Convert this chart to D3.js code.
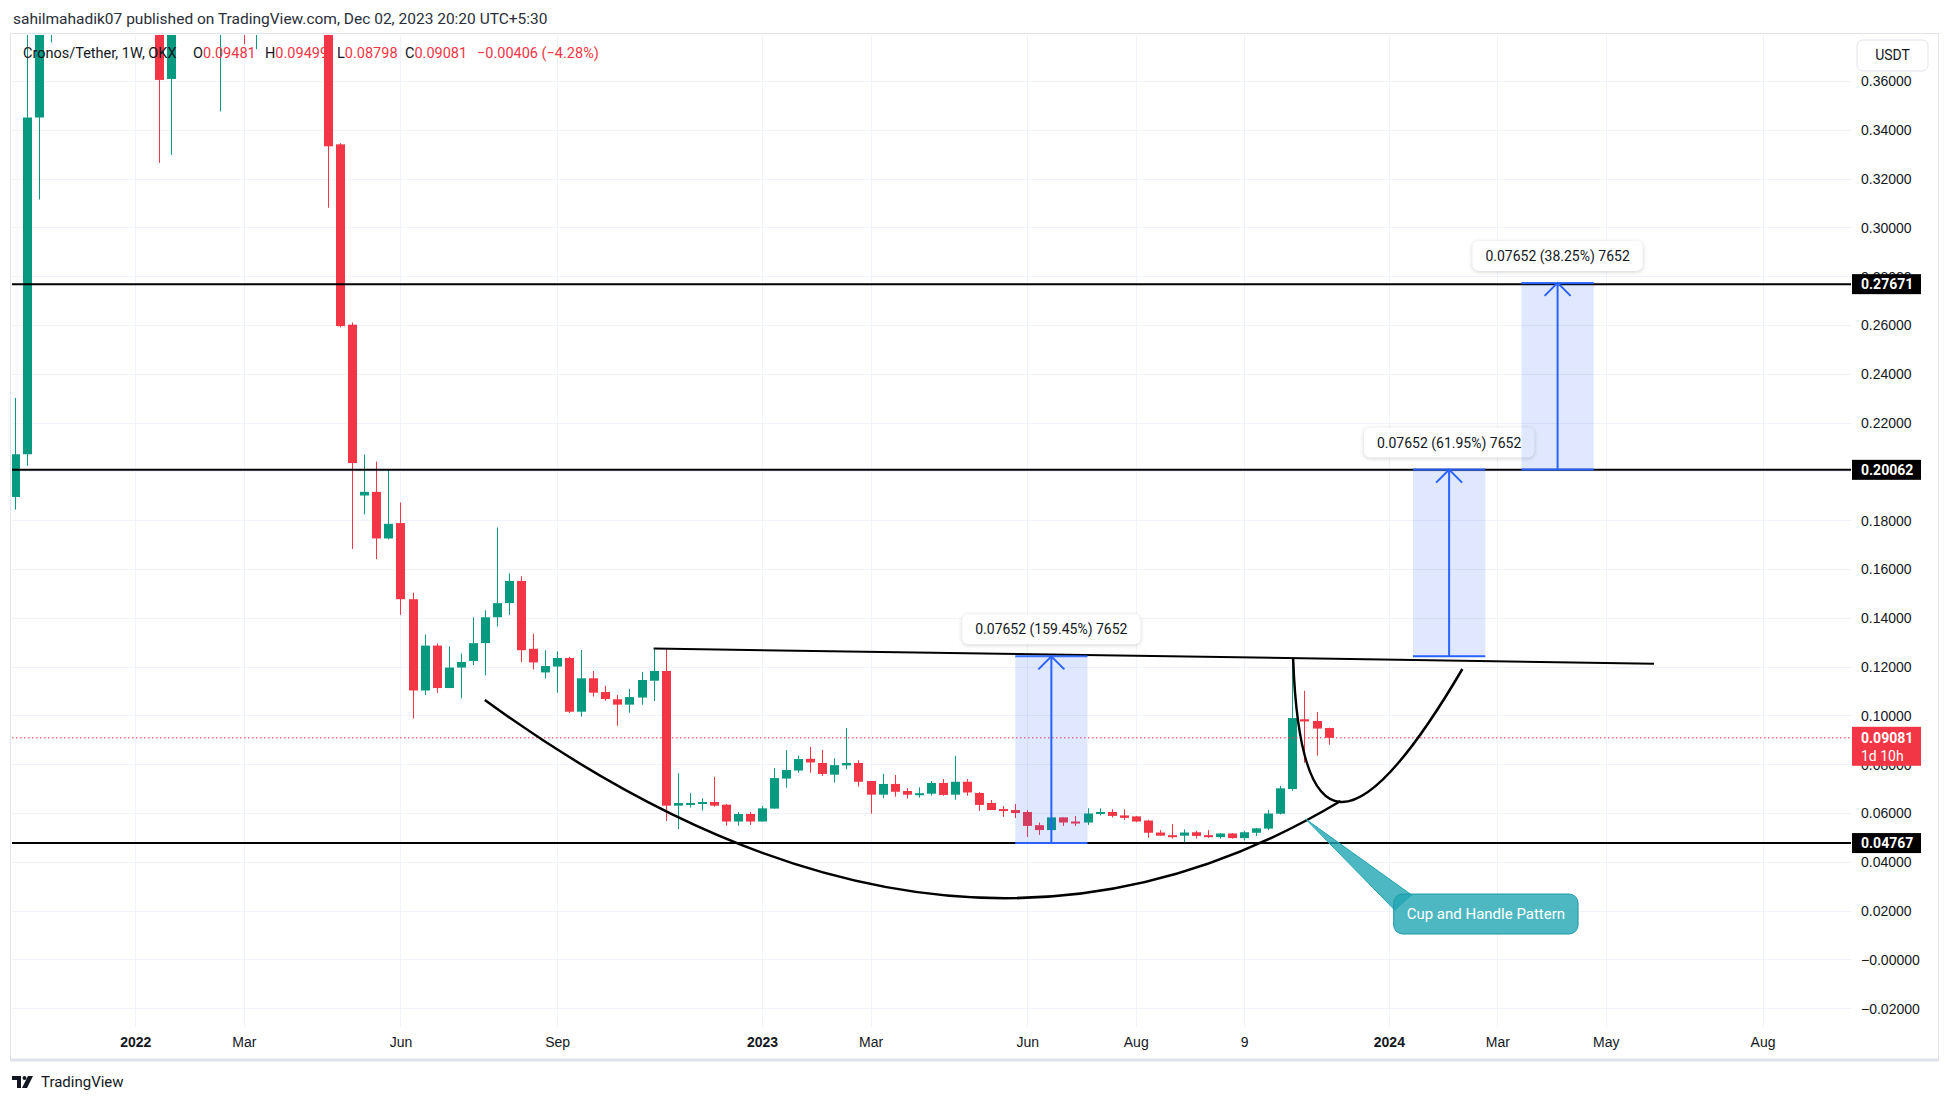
<!DOCTYPE html>
<html>
<head>
<meta charset="utf-8">
<script src="https://cdn.jsdelivr.net/npm/d3@7"></script>
<style>
  html, body { margin: 0; padding: 0; background: #fff; }
  svg { display: block; font-family: Roboto, "Noto Sans", sans-serif; }
</style>
</head>
<body>
<svg id="chart" width="1946" height="1105"></svg>
<script>
// CRO/USDT weekly candles (OKX), first candle = week of 25 Oct 2021
const firstWeek = Date.UTC(2021, 9, 25);

const opens = [
  0.1895, 0.2070, 0.3450, 0.4500, 0.6000, 0.7600, 0.6200, 0.5300, 0.5100, 0.5700,
  0.5500, 0.4400, 0.4200, 0.3608, 0.4400, 0.4600, 0.4700, 0.4000, 0.4300, 0.4100,
  0.3900, 0.4200, 0.4600, 0.4500, 0.4200, 0.4100, 0.4000, 0.3340, 0.2601, 0.1901,
  0.1916, 0.1725, 0.1788, 0.1476, 0.1102, 0.1286, 0.1112, 0.1196, 0.1223, 0.1296,
  0.1402, 0.1460, 0.1551, 0.1273, 0.1176, 0.1200, 0.1235, 0.1015, 0.1152, 0.1096,
  0.1066, 0.1044, 0.1073, 0.1142, 0.1182, 0.0630, 0.0638, 0.0641, 0.0645, 0.0634,
  0.0565, 0.0596, 0.0565, 0.0618, 0.0741, 0.0774, 0.0822, 0.0805, 0.0757, 0.0795,
  0.0805, 0.0731, 0.0675, 0.0719, 0.0690, 0.0675, 0.0679, 0.0723, 0.0675, 0.0728,
  0.0682, 0.0641, 0.0616, 0.0612, 0.0604, 0.0550, 0.0530, 0.0582, 0.0565, 0.0561,
  0.0602, 0.0604, 0.0590, 0.0586, 0.0569, 0.0520, 0.0509, 0.0507, 0.0521, 0.0509,
  0.0501, 0.0516, 0.0497, 0.0519, 0.0536, 0.0597, 0.0698, 0.0984, 0.0977, 0.09481
];
const highs = [
  0.2301, 0.4500, 0.5200, 0.7200, 0.9700, 0.8000, 0.6600, 0.5700, 0.6200, 0.6500,
  0.5700, 0.5000, 0.4500, 0.4700, 0.4800, 0.5200, 0.4900, 0.4500, 0.4500, 0.4300,
  0.4400, 0.4800, 0.4900, 0.4700, 0.4400, 0.4300, 0.4100, 0.3345, 0.2610, 0.2069,
  0.2040, 0.2007, 0.1872, 0.1503, 0.1331, 0.1295, 0.1282, 0.1253, 0.1402, 0.1431,
  0.1770, 0.1582, 0.1570, 0.1334, 0.1267, 0.1262, 0.1240, 0.1268, 0.1182, 0.1121,
  0.1084, 0.1108, 0.1178, 0.1274, 0.1274, 0.0763, 0.0681, 0.0660, 0.0748, 0.0637,
  0.0604, 0.0604, 0.0629, 0.0784, 0.0858, 0.0835, 0.0871, 0.0858, 0.0824, 0.0948,
  0.0816, 0.0731, 0.0760, 0.0756, 0.0702, 0.0705, 0.0731, 0.0739, 0.0834, 0.0739,
  0.0686, 0.0653, 0.0628, 0.0637, 0.0612, 0.0561, 0.0608, 0.0582, 0.0588, 0.0619,
  0.0619, 0.0615, 0.0615, 0.0588, 0.0572, 0.0530, 0.0555, 0.0533, 0.0527, 0.0530,
  0.0518, 0.0518, 0.0527, 0.0539, 0.0612, 0.0711, 0.1230, 0.1101, 0.1014, 0.09499
];
const lows = [
  0.1843, 0.2023, 0.3114, 0.3758, 0.5600, 0.5000, 0.4600, 0.4400, 0.5000, 0.5200,
  0.4300, 0.4000, 0.3264, 0.3297, 0.4000, 0.4400, 0.3900, 0.3475, 0.3900, 0.3750,
  0.3730, 0.4100, 0.4300, 0.4100, 0.3900, 0.3900, 0.3080, 0.2590, 0.1682, 0.1824,
  0.1640, 0.1721, 0.1412, 0.0987, 0.1083, 0.1092, 0.1112, 0.1070, 0.1206, 0.1164,
  0.1364, 0.1412, 0.1219, 0.1188, 0.1151, 0.1093, 0.1010, 0.0995, 0.1077, 0.1060,
  0.0957, 0.1011, 0.1044, 0.1059, 0.0567, 0.0534, 0.0622, 0.0610, 0.0626, 0.0548,
  0.0548, 0.0551, 0.0565, 0.0618, 0.0704, 0.0765, 0.0765, 0.0752, 0.0725, 0.0779,
  0.0708, 0.0597, 0.0661, 0.0667, 0.0659, 0.0663, 0.0671, 0.0671, 0.0654, 0.0671,
  0.0608, 0.0612, 0.0584, 0.0579, 0.0502, 0.0510, 0.0477, 0.0547, 0.0547, 0.0551,
  0.0590, 0.0582, 0.0572, 0.0562, 0.0498, 0.0507, 0.0495, 0.0478, 0.0495, 0.0498,
  0.0495, 0.0495, 0.0487, 0.0506, 0.0530, 0.0594, 0.0691, 0.0806, 0.0835, 0.08798
];
const closes = [
  0.2070, 0.3450, 0.4500, 0.6000, 0.7600, 0.6200, 0.5300, 0.5100, 0.5700, 0.5500,
  0.4400, 0.4200, 0.3604, 0.4400, 0.4600, 0.4700, 0.4000, 0.4300, 0.4100, 0.3900,
  0.4200, 0.4600, 0.4500, 0.4200, 0.4100, 0.4000, 0.3332, 0.2595, 0.2034, 0.1916,
  0.1725, 0.1785, 0.1476, 0.1102, 0.1286, 0.1112, 0.1196, 0.1219, 0.1296, 0.1402,
  0.1460, 0.1551, 0.1267, 0.1217, 0.1202, 0.1235, 0.1015, 0.1152, 0.1093, 0.1067,
  0.1044, 0.1075, 0.1145, 0.1182, 0.0630, 0.0641, 0.0641, 0.0645, 0.0630, 0.0565,
  0.0596, 0.0565, 0.0619, 0.0743, 0.0776, 0.0821, 0.0807, 0.0760, 0.0796, 0.0805,
  0.0728, 0.0675, 0.0719, 0.0687, 0.0675, 0.0681, 0.0723, 0.0674, 0.0728, 0.0684,
  0.0633, 0.0612, 0.0612, 0.0600, 0.0547, 0.0530, 0.0582, 0.0561, 0.0561, 0.0598,
  0.0604, 0.0588, 0.0580, 0.0565, 0.0519, 0.0507, 0.0507, 0.0520, 0.0506, 0.0501,
  0.0516, 0.0497, 0.0521, 0.0537, 0.0598, 0.0701, 0.0989, 0.0975, 0.0946, 0.09081
];

// price axis
const yTicks = [-0.02, 0, 0.02, 0.04, 0.06, 0.08, 0.10, 0.12, 0.14, 0.16, 0.18, 0.20,
                0.22, 0.24, 0.26, 0.28, 0.30, 0.32, 0.34, 0.36];
const yTickLabels = ['\u22120.02000', '\u22120.00000', '0.02000', '0.04000', '0.06000', '0.08000',
                     '0.10000', '0.12000', '0.14000', '0.16000', '0.18000', '0.20000', '0.22000',
                     '0.24000', '0.26000', '0.28000', '0.30000', '0.32000', '0.34000', '0.36000'];

// time axis
const xTickDates = [[2022, 0, 3], [2022, 2, 7], [2022, 5, 6], [2022, 8, 5], [2023, 0, 2],
                    [2023, 2, 6], [2023, 5, 5], [2023, 7, 7], [2023, 9, 9], [2024, 0, 1],
                    [2024, 2, 4], [2024, 4, 6], [2024, 7, 5]];
const xTickLabels = ['2022', 'Mar', 'Jun', 'Sep', '2023', 'Mar', 'Jun', 'Aug', '9', '2024', 'Mar', 'May', 'Aug'];

// drawings (x in weeks from the first candle)
const levels = [0.27671, 0.20062, 0.04767];
const lastPrice = 0.09081;
const neckline = [[53, 0.1274], [136, 0.1212]];
const cupCurve = [[39.0, 0.1063], [77.4, -0.0318], [110.0, 0.0649]];
const handleCurve = [[106.06, 0.1231], [106.9, 0.0080], [120.1, 0.1190]];
const ranges = [
  { from: 83, to: 89, lo: 0.04767, hi: 0.12419, label: '0.07652 (159.45%) 7652' },
  { from: 116, to: 122, lo: 0.12419, hi: 0.20071, label: '0.07652 (61.95%) 7652' },
  { from: 125, to: 131, lo: 0.20071, hi: 0.27723, label: '0.07652 (38.25%) 7652' }
];
const callout = { tip: [107.1, 0.0575], box: [114.4, 0.0268], text: 'Cup and Handle Pattern' };

// legend line: text, colour, left x
const legendParts = [
  ['Cronos/Tether, 1W, OKX', 'txt', 23], ['O', 'txt', 193], ['0.09481', 'dn', null],
  ['H', 'txt', 265], ['0.09499', 'dn', null], ['L', 'txt', 337], ['0.08798', 'dn', null],
  ['C', 'txt', 405], ['0.09081', 'dn', null], ['\u22120.00406 (\u22124.28%)', 'dn', 477]
];

const UP = '#089981', DOWN = '#f23645', TEXT = '#131722';
const plot = { left: 12, right: 1851, top: 35, bottom: 1027 };
const svg = d3.select('#chart');

const weekMs = 7 * 24 * 3600 * 1000;
const wkDate = w => new Date(firstWeek + w * weekMs);

const xScale = d3.scaleUtc()
  .domain([new Date(Date.UTC(2022, 0, 3)), new Date(Date.UTC(2024, 7, 5))])
  .range([135.3, 1762.5]);
const yScale = d3.scaleLinear()
  .domain([0, 0.36])
  .range([959.4, 80.9]);
const xw = w => xScale(wkDate(w));

svg.append('defs').append('clipPath').attr('id', 'plotClip')
  .append('rect')
  .attr('x', plot.left).attr('y', plot.top)
  .attr('width', plot.right - plot.left).attr('height', plot.bottom - plot.top);

// frame
svg.append('rect')
  .attr('x', 10.5).attr('y', 33.5).attr('width', 1928).attr('height', 1026)
  .attr('fill', 'none').attr('stroke', '#e0e3eb');
svg.append('line')
  .attr('x1', 10).attr('x2', 1939).attr('y1', 1060).attr('y2', 1060)
  .attr('stroke', '#e0e3eb').attr('stroke-width', 3);

// grid
const grid = svg.append('g').attr('clip-path', 'url(#plotClip)');
grid.selectAll('.hg').data(yTicks).join('line')
  .attr('x1', plot.left).attr('x2', plot.right)
  .attr('y1', d => Math.round(yScale(d)) + 0.5).attr('y2', d => Math.round(yScale(d)) + 0.5)
  .attr('stroke', '#f0f3fa');
grid.selectAll('.vg').data(xTickDates).join('line')
  .attr('x1', d => Math.round(xScale(new Date(Date.UTC(...d)))) + 0.5)
  .attr('x2', d => Math.round(xScale(new Date(Date.UTC(...d)))) + 0.5)
  .attr('y1', plot.top).attr('y2', plot.bottom + 1)
  .attr('stroke', '#f0f3fa');

// price axis
const yAxis = d3.axisRight(yScale)
  .tickValues(yTicks)
  .tickFormat((d, i) => yTickLabels[i])
  .tickSize(0)
  .tickPadding(0);
const yAxisG = svg.append('g')
  .attr('transform', `translate(${1861}, 0)`)
  .call(yAxis);
yAxisG.select('.domain').remove();
yAxisG.selectAll('text')
  .attr('fill', TEXT).style('font-size', '14px').attr('dy', '0.35em');

// time axis
const xAxis = d3.axisBottom(xScale)
  .tickValues(xTickDates.map(d => new Date(Date.UTC(...d))))
  .tickFormat((d, i) => xTickLabels[i])
  .tickSize(0)
  .tickPadding(0);
const xAxisG = svg.append('g')
  .attr('transform', `translate(0, ${1037})`)
  .call(xAxis);
xAxisG.select('.domain').remove();
xAxisG.selectAll('text')
  .attr('fill', TEXT).style('font-size', '14px')
  .style('font-weight', (d, i) => /^\d{4}$/.test(xTickLabels[i]) ? 'bold' : 'normal');

// candles
const idx = d3.range(opens.length);
const cg = svg.append('g').attr('clip-path', 'url(#plotClip)');
cg.selectAll('.wick').data(idx).join('line')
  .attr('x1', i => Math.round(xw(i)) + 0.5).attr('x2', i => Math.round(xw(i)) + 0.5)
  .attr('y1', i => yScale(highs[i])).attr('y2', i => yScale(lows[i]))
  .attr('stroke', i => closes[i] >= opens[i] ? UP : DOWN);
cg.selectAll('.body').data(idx).join('rect')
  .attr('x', i => Math.round(xw(i)) - 4)
  .attr('width', 9)
  .attr('y', i => yScale(Math.max(opens[i], closes[i])))
  .attr('height', i => Math.max(2, Math.abs(yScale(opens[i]) - yScale(closes[i]))))
  .attr('fill', i => closes[i] >= opens[i] ? UP : DOWN);

// drawings
const dg = svg.append('g').attr('clip-path', 'url(#plotClip)');

dg.append('line')
  .attr('x1', plot.left).attr('x2', plot.right)
  .attr('y1', yScale(lastPrice)).attr('y2', yScale(lastPrice))
  .attr('stroke', DOWN).attr('stroke-dasharray', '1.5,2.5');

dg.selectAll('.lvl').data(levels).join('line')
  .attr('x1', plot.left).attr('x2', plot.right)
  .attr('y1', d => yScale(d)).attr('y2', d => yScale(d))
  .attr('stroke', '#000').attr('stroke-width', 2);

dg.append('line')
  .attr('x1', xw(neckline[0][0])).attr('y1', yScale(neckline[0][1]))
  .attr('x2', xw(neckline[1][0])).attr('y2', yScale(neckline[1][1]))
  .attr('stroke', '#000').attr('stroke-width', 2);

function quad(pts) {
  const p = d3.path();
  p.moveTo(xw(pts[0][0]), yScale(pts[0][1]));
  p.quadraticCurveTo(xw(pts[1][0]), yScale(pts[1][1]), xw(pts[2][0]), yScale(pts[2][1]));
  return p.toString();
}
dg.append('path').attr('d', quad(cupCurve))
  .attr('fill', 'none').attr('stroke', '#000').attr('stroke-width', 2.5);
dg.append('path').attr('d', quad(handleCurve))
  .attr('fill', 'none').attr('stroke', '#000').attr('stroke-width', 2.5);

// measure ranges
ranges.forEach(r => {
  const x0 = xw(r.from), x1 = xw(r.to), xc = xw((r.from + r.to) / 2);
  const yTop = yScale(r.hi), yBot = yScale(r.lo);
  const g = dg.append('g');
  g.append('rect')
    .attr('x', x0).attr('y', yTop).attr('width', x1 - x0).attr('height', yBot - yTop)
    .attr('fill', 'rgba(41,98,255,0.15)');
  g.append('line').attr('x1', x0).attr('x2', x1).attr('y1', yTop).attr('y2', yTop)
    .attr('stroke', '#2962ff').attr('stroke-width', 2).attr('stroke-opacity', 0.9);
  g.append('line').attr('x1', x0).attr('x2', x1).attr('y1', yBot).attr('y2', yBot)
    .attr('stroke', '#2962ff').attr('stroke-width', 2);
  g.append('line').attr('x1', xc).attr('x2', xc).attr('y1', yBot).attr('y2', yTop + 1)
    .attr('stroke', '#2962ff').attr('stroke-width', 2);
  g.append('path')
    .attr('d', `M${xc - 13},${yTop + 13}L${xc},${yTop}L${xc + 13},${yTop + 13}`)
    .attr('fill', 'none').attr('stroke', '#2962ff').attr('stroke-width', 2);

  const lbl = g.append('g');
  const box = lbl.append('rect');
  const t = lbl.append('text')
    .attr('x', xc).attr('y', yTop - 22)
    .attr('text-anchor', 'middle').attr('fill', TEXT)
    .style('font-size', '14px').text(r.label);
  const w = t.node().getComputedTextLength() + 26;
  box.attr('x', xc - w / 2).attr('y', yTop - 42).attr('width', w).attr('height', 30)
    .attr('rx', 6).attr('fill', '#fff')
    .style('filter', 'drop-shadow(0px 1px 2px rgba(0,0,0,0.18))');
});

// callout
const tipX = xw(callout.tip[0]), tipY = yScale(callout.tip[1]);
const bx = xw(callout.box[0]), by = yScale(callout.box[1]);
const cgp = svg.append('g');
const ctext = cgp.append('text')
  .attr('fill', '#fff').style('font-size', '15px')
  .attr('text-anchor', 'middle').text(callout.text);
const cw = ctext.node().getComputedTextLength() + 26;
cgp.insert('path', 'text')
  .attr('d', `M${tipX},${tipY}L${bx + 18},${by + 1}L${bx + 1},${by + 16}Z`)
  .attr('fill', 'rgba(34,166,179,0.8)').attr('stroke', '#22a6b3');
cgp.insert('rect', 'text')
  .attr('x', bx).attr('y', by).attr('width', cw).attr('height', 40)
  .attr('rx', 9).attr('fill', 'rgba(34,166,179,0.8)').attr('stroke', '#1e9aa8');
ctext.attr('x', bx + cw / 2).attr('y', by + 25);

// axis price labels
const ax = svg.append('g');
levels.forEach(v => {
  const y = yScale(v);
  ax.append('rect').attr('x', 1852).attr('y', y - 10).attr('width', 69).attr('height', 20)
    .attr('fill', '#000');
  ax.append('text').attr('x', 1861).attr('y', y + 5)
    .attr('fill', '#fff').style('font-size', '14px').style('font-weight', 'bold')
    .text(d3.format('.5f')(v));
});
{
  const y = yScale(lastPrice);
  ax.append('rect').attr('x', 1852).attr('y', y - 11).attr('width', 69).attr('height', 39)
    .attr('fill', DOWN);
  ax.append('text').attr('x', 1861).attr('y', y + 5)
    .attr('fill', '#fff').style('font-size', '14px').style('font-weight', 'bold')
    .text(d3.format('.5f')(lastPrice));
  ax.append('text').attr('x', 1861).attr('y', y + 23)
    .attr('fill', '#fff').style('font-size', '14px')
    .text('1d 10h');
}

// currency box
svg.append('rect').attr('x', 1857).attr('y', 40).attr('width', 71).attr('height', 31)
  .attr('rx', 6).attr('fill', '#fff').attr('stroke', '#e0e3eb');
svg.append('text').attr('x', 1892.5).attr('y', 60).attr('text-anchor', 'middle')
  .attr('fill', TEXT).style('font-size', '14px').text('USDT');

// header + legend
svg.append('text').attr('x', 13).attr('y', 24)
  .attr('fill', '#2a2e39').style('font-size', '15.5px')
  .text('sahilmahadik07 published on TradingView.com, Dec 02, 2023 20:20 UTC+5:30');

const legend = svg.append('text').attr('y', 58).style('font-size', '14.5px');
legendParts.forEach(p => {
  const ts = legend.append('tspan').attr('fill', p[1] === 'dn' ? DOWN : TEXT).text(p[0]);
  if (p[2] !== null) ts.attr('x', p[2]);
});

// footer logo
const logo = svg.append('g').attr('transform', 'translate(12, 1076)').attr('fill', TEXT);
logo.append('path').attr('d', 'M0 0h9v12h-4v-8h-5z');
logo.append('circle').attr('cx', 12.5).attr('cy', 2).attr('r', 2);
logo.append('path').attr('d', 'M16 0h5l-6 12h-5z');
svg.append('text').attr('x', 41).attr('y', 1087)
  .attr('fill', TEXT).style('font-size', '15px').text('TradingView');
</script>
</body>
</html>
